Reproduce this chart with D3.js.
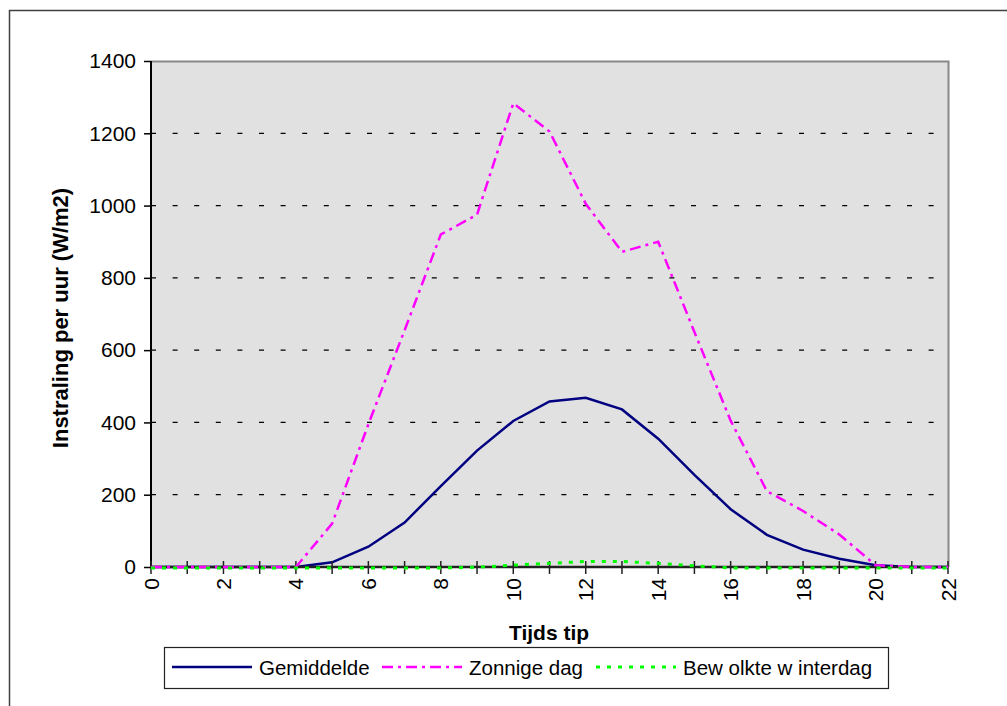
<!DOCTYPE html>
<html>
<head>
<meta charset="utf-8">
<script src="https://cdn.jsdelivr.net/npm/d3@7"></script>
<style>
  body { margin: 0; background: #fff; }
  text { font-family: "Liberation Sans", Arial, sans-serif; }
</style>
</head>
<body>
<div id="chart"></div>
<script>
// uren van de dag
var hours = d3.range(0, 23);
var gemiddelde = [0,0,0,0,0,13,56,123,224,322,404,458,468,436,355,255,160,89,48,23,5,0,0];
var zonnig = [0,0,0,0,0,120,395,655,920,975,1283,1205,1005,872,900,650,405,210,155,90,5,0,0];
var winter = [0,0,0,0,0,0,0,0,0,2,8,13,18,18,13,6,0,0,0,0,0,0,0];
var yTicks = [0,200,400,600,800,1000,1200,1400];
var xLabels = d3.range(0, 23, 2);
var seriesNames = ["Gemiddelde", "Zonnige dag", "Bew olkte w interdag"];

var W = 1007, H = 706,
    margins = {top: 61, right: 59, bottom: 139, left: 151},
    width = W - margins.left - margins.right,
    height = H - margins.top - margins.bottom;

var svg = d3.select('#chart').append('svg')
    .attr('width', W)
    .attr('height', H);

// outer frame
svg.append('rect')
    .attr('x', 9.5).attr('y', 10.5)
    .attr('width', 1100).attr('height', 800)
    .style('fill', 'none')
    .style('stroke', '#404040')
    .style('stroke-width', 1.5);

var x = d3.scaleLinear().domain([0, 22]).range([0, width]);
var y = d3.scaleLinear().domain([0, 1400]).range([height, 0]);

var g = svg.append('g')
    .attr('transform', 'translate(' + margins.left + ',' + margins.top + ')');

g.append('rect')
    .attr('width', width).attr('height', height)
    .style('fill', '#e1e1e1');

// gridlines
g.selectAll('line.grid')
    .data(yTicks.filter(function(d) { return d > 0 && d < 1400; }))
    .enter().append('line')
    .attr('class', 'grid')
    .attr('x1', 0).attr('x2', width)
    .attr('y1', function(d) { return y(d); })
    .attr('y2', function(d) { return y(d); })
    .style('stroke', '#000')
    .style('stroke-width', 1.2)
    .style('stroke-dasharray', '5,16.6');

// plot border top + right
g.append('path')
    .attr('d', 'M0,0.5H' + (width + 0.5) + 'V' + height)
    .style('fill', 'none')
    .style('stroke', '#888')
    .style('stroke-width', 2);

// y axis
var yAxis = d3.axisLeft(y).tickValues(yTicks).tickFormat(d3.format('d')).tickSize(7).tickPadding(8);
var ya = g.append('g').call(yAxis);
ya.select('.domain').remove();
ya.append('line').attr('x1', 0).attr('x2', 0).attr('y1', 0).attr('y2', height)
    .style('stroke', '#000').style('stroke-width', 2);
ya.selectAll('text').style('font-size', '21px').style('fill', '#000');
ya.selectAll('.tick line').style('stroke', '#000').style('stroke-width', 1.5);

// lines
var line = function(vals) {
    return d3.line()
        .x(function(d, i) { return x(hours[i]); })
        .y(function(d) { return y(d); })(vals);
};

g.append('path').attr('d', line(gemiddelde))
    .style('fill', 'none').style('stroke', '#000080').style('stroke-width', 2.5);

// x axis
var xa = g.append('g').attr('transform', 'translate(0,' + height + ')');
xa.append('line').attr('x1', 0).attr('x2', width)
    .style('stroke', '#222').style('stroke-width', 2.5);
xa.selectAll('line.tk').data(hours).enter().append('line')
    .attr('class', 'tk')
    .attr('x1', function(d) { return x(d); })
    .attr('x2', function(d) { return x(d); })
    .attr('y1', -6).attr('y2', 7)
    .style('stroke', '#222').style('stroke-width', 1.5);
xa.selectAll('text').data(xLabels).enter().append('text')
    .attr('transform', function(d) { return 'translate(' + (x(d) + 7.5) + ',11) rotate(-90)'; })
    .attr('text-anchor', 'end')
    .style('font-size', '21px')
    .text(function(d) { return d; });

g.append('path').attr('d', line(zonnig))
    .style('fill', 'none').style('stroke', '#ff00ff').style('stroke-width', 2.5)
    .style('stroke-dasharray', '11,5,3,5');

g.append('path').attr('d', line(winter))
    .attr('transform', 'translate(0,1)')
    .style('fill', 'none').style('stroke', '#00ff00').style('stroke-width', 3)
    .style('stroke-dasharray', '4,7');

// axis titles
svg.append('text')
    .attr('transform', 'translate(68,318) rotate(-90)')
    .attr('text-anchor', 'middle')
    .style('font-size', '22px').style('font-weight', 'bold')
    .text('Instraling per uur (W/m2)');

svg.append('text')
    .attr('x', 549).attr('y', 640)
    .attr('text-anchor', 'middle')
    .style('font-size', '21px').style('font-weight', 'bold')
    .text('Tijds tip');

// legend
var legend = svg.append('g').attr('class', 'legend');
legend.append('rect')
    .attr('x', 164.5).attr('y', 647.5).attr('width', 724).attr('height', 41)
    .style('fill', '#fff').style('stroke', '#222').style('stroke-width', 1.2);

var colors = ['#000080', '#ff00ff', '#00ff00'];
var dashes = [null, '11,5,3,5', '4,7'];
var widths = [2.5, 2.5, 3];
var lx = [172, 382, 596];
legend.selectAll('g.item').data(seriesNames).enter().append('g')
    .attr('class', 'item')
    .each(function(d, k) {
        var it = d3.select(this);
        it.append('line')
            .attr('x1', lx[k]).attr('x2', lx[k] + 80)
            .attr('y1', 667).attr('y2', 667)
            .style('stroke', colors[k])
            .style('stroke-width', widths[k])
            .style('stroke-dasharray', dashes[k]);
        it.append('text')
            .attr('x', lx[k] + 87).attr('y', 675)
            .style('font-size', '20.5px')
            .text(d);
    });
</script>
</body>
</html>
